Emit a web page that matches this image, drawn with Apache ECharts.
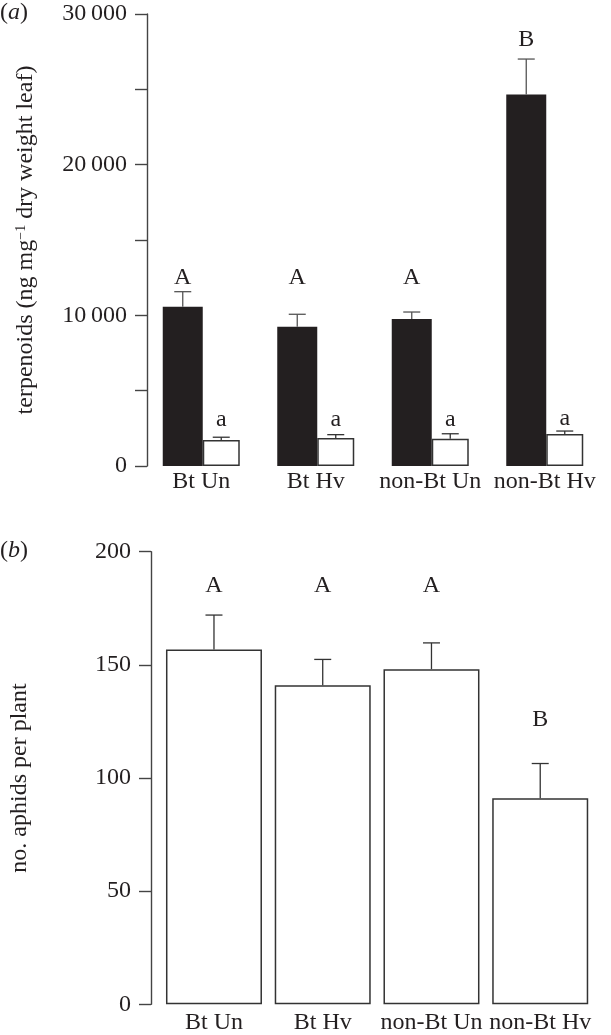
<!DOCTYPE html>
<html>
<head>
<meta charset="utf-8">
<script src="https://cdn.jsdelivr.net/npm/echarts@6/dist/echarts.min.js"></script>
<style>
  html, body { margin: 0; padding: 0; background: #fff; }
  #chart { width: 611px; height: 1035px; }
</style>
</head>
<body>
<div id="chart"></div>
<script>
const categories = ['Bt Un', 'Bt Hv', 'non-Bt Un', 'non-Bt Hv'];

// panel (a): terpenoids, black and white bars per treatment
const terpBlack = [10570, 9240, 9750, 24660];
const terpBlackSE = [1000, 830, 470, 2350];
const terpWhite = [1730, 1860, 1810, 2120];
const terpWhiteSE = [180, 220, 330, 200];

// panel (b): aphids per plant
const aphids = [156.8, 141.0, 148.1, 91.0];
const aphidsSE = [15.2, 11.4, 11.6, 15.4];

// significance letters and the height they sit at
const lettersBlack = ['A', 'A', 'A', 'B'];
const lettersBlackAt = [12480, 12480, 12480, 28270];
const lettersWhite = ['a', 'a', 'a', 'a'];
const lettersWhiteAt = [3050, 3050, 3050, 3150];
const lettersAphids = ['A', 'A', 'A', 'B'];
const lettersAphidsAt = [184.8, 184.8, 184.8, 125.8];

const FONT = 'Liberation Serif';
const FS = 24;
const INK = '#231f20';
const AXIS = '#444';

function errorSeries(axis, values, se, dx, color) {
  return {
    type: 'custom',
    xAxisIndex: axis,
    yAxisIndex: axis,
    z: 5,
    data: values.map((v, i) => [i, v, v + se[i]]),
    renderItem: function (params, api) {
      const base = api.coord([api.value(0), api.value(1)]);
      const top = api.coord([api.value(0), api.value(2)]);
      const x = base[0] + dx;
      const st = { stroke: color, lineWidth: 1.3 };
      return {
        type: 'group',
        children: [
          { type: 'line', shape: { x1: x, y1: base[1], x2: x, y2: top[1] }, style: st },
          { type: 'line', shape: { x1: x - 8.5, y1: top[1], x2: x + 8.5, y2: top[1] }, style: st }
        ]
      };
    }
  };
}

function letterSeries(axis, letters, at, dx) {
  return {
    type: 'custom',
    xAxisIndex: axis,
    yAxisIndex: axis,
    z: 6,
    data: at.map((v, i) => [i, v]),
    renderItem: function (params, api) {
      const p = api.coord([api.value(0), api.value(1)]);
      return {
        type: 'text',
        style: {
          text: letters[params.dataIndex],
          x: p[0] + dx,
          y: p[1],
          align: 'center',
          verticalAlign: 'middle',
          fontSize: FS,
          fontFamily: FONT,
          fill: INK
        }
      };
    }
  };
}

function yAxisBase(grid, max, interval, offset, name, nameGap, formatter) {
  return {
    type: 'value',
    gridIndex: grid,
    min: 0,
    max: max,
    interval: interval,
    offset: offset,
    name: name,
    nameLocation: 'middle',
    nameGap: nameGap,
    nameTextStyle: {
      fontFamily: FONT, fontSize: FS, color: INK,
      rich: {
        n: { fontFamily: FONT, fontSize: FS, color: INK },
        sup: { fontFamily: FONT, fontSize: 14, color: INK, verticalAlign: 'top', lineHeight: 15 }
      }
    },
    axisLine: { show: true, lineStyle: { color: AXIS, width: 1.4 } },
    axisTick: { show: true, length: 12, lineStyle: { color: AXIS, width: 1.4 } },
    axisLabel: { margin: 20, fontFamily: FONT, fontSize: FS, color: INK, formatter: formatter },
    splitLine: { show: false }
  };
}

function xAxisBase(grid, margin) {
  return {
    type: 'category',
    gridIndex: grid,
    data: categories,
    axisLine: { show: false },
    axisTick: { show: false },
    axisLabel: { margin: margin, fontFamily: FONT, fontSize: FS, color: INK, interval: 0 }
  };
}

const chart = echarts.init(document.getElementById('chart'));
chart.setOption({
  backgroundColor: '#fff',
  animation: false,
  grid: [
    { left: 144, width: 458, top: 14, height: 452 },
    { left: 155.6, width: 439, top: 551.7, height: 452.6 }
  ],
  xAxis: [xAxisBase(0, 4), xAxisBase(1, 6)],
  yAxis: [
    yAxisBase(0, 30000, 5000, -3, '{n|terpenoids (ng mg}{sup|−1}{n| dry weight leaf)}', 109,
      v => v % 10000 === 0 ? (v === 0 ? '0' : (v / 1000) + '\u2009000') : ''),
    yAxisBase(1, 200, 50, 8.6, 'no. aphids per plant', 119, v => String(v))
  ],
  graphic: [
    {
      type: 'text', left: 0, top: 1,
      style: {
        text: '({i|a})', fontFamily: FONT, fontSize: FS, fill: INK,
        rich: { i: { fontFamily: FONT, fontSize: FS, fontStyle: 'italic', color: INK } }
      }
    },
    {
      type: 'text', left: 0, top: 539,
      style: {
        text: '({i|b})', fontFamily: FONT, fontSize: FS, fill: INK,
        rich: { i: { fontFamily: FONT, fontSize: FS, fontStyle: 'italic', color: INK } }
      }
    }
  ],
  series: [
    {
      type: 'bar', xAxisIndex: 0, yAxisIndex: 0, data: terpBlack,
      barWidth: 40, barGap: '0%',
      itemStyle: { color: INK }
    },
    {
      type: 'bar', xAxisIndex: 0, yAxisIndex: 0, data: terpWhite,
      barWidth: 37, barGap: '0%',
      itemStyle: { color: '#fff', borderColor: '#333', borderWidth: 1.5 }
    },
    errorSeries(0, terpBlack, terpBlackSE, -18.5, '#555'),
    errorSeries(0, terpWhite, terpWhiteSE, 20, '#333'),
    letterSeries(0, lettersBlack, lettersBlackAt, -18.5),
    letterSeries(0, lettersWhite, lettersWhiteAt, 20),
    {
      type: 'bar', xAxisIndex: 1, yAxisIndex: 1, data: aphids,
      barWidth: 96,
      itemStyle: { color: '#fff', borderColor: '#333', borderWidth: 1.5 }
    },
    errorSeries(1, aphids, aphidsSE, 0, '#333'),
    letterSeries(1, lettersAphids, lettersAphidsAt, 0)
  ]
});
</script>
</body>
</html>
